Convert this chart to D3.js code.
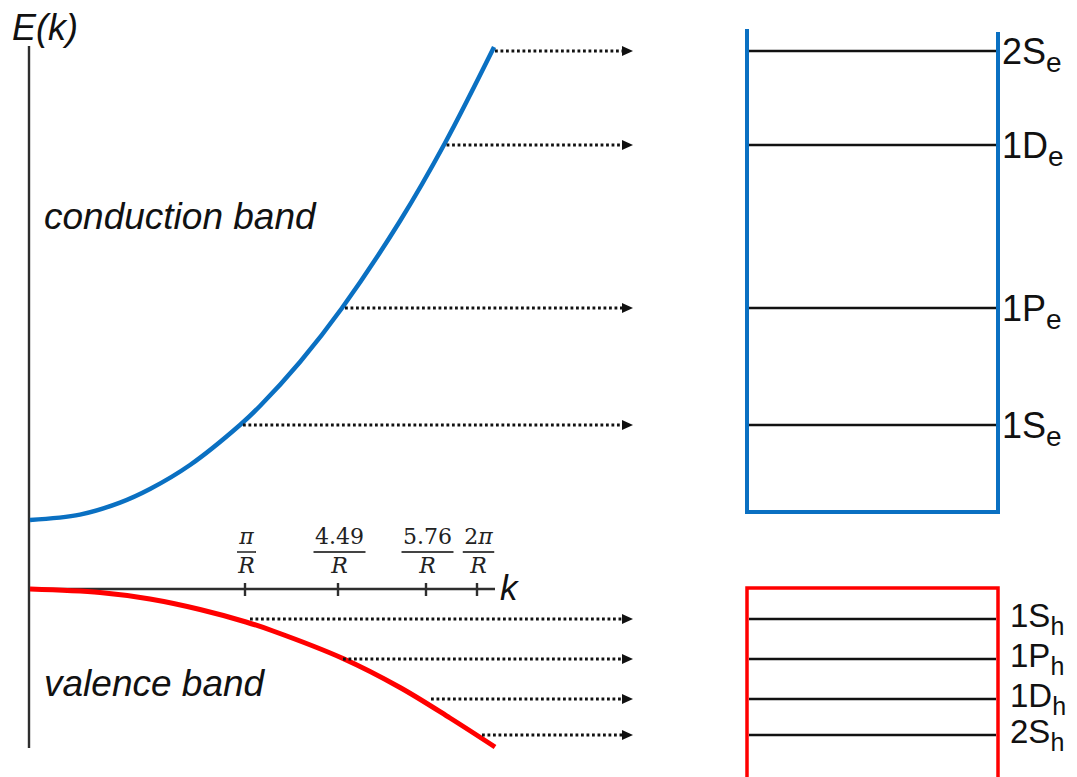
<!DOCTYPE html>
<html>
<head>
<meta charset="utf-8">
<script src="https://cdn.jsdelivr.net/npm/d3@7"></script>
<style>
  html, body { margin: 0; padding: 0; background: #fff; }
  svg { display: block; }
</style>
</head>
<body>
<svg id="chart" width="1077" height="777"></svg>
<script>
// Wave-vector ticks (in units of 1/R) and their numerators
const kTickValues = [Math.PI, 4.49, 5.76, 2 * Math.PI];
const kTickNumerators = ["π", "4.49", "5.76", "2π"];

// Conduction band dispersion E(k), sampled
const conductionK = [0, 0.73, 1.315, 1.753, 2.338, 3.068, 3.359, 3.939, 4.548, 5.385, 5.955, 6.458];
const conductionE = [0.69, 0.744, 0.864, 1.00, 1.24, 1.64, 1.83, 2.27, 2.81, 3.68, 4.46, 5.42];

// Valence band dispersion E(k), sampled
const valenceK = [0, 1.023, 1.753, 2.484, 3.156, 3.548, 4.562, 5.385, 6.006, 6.468];
const valenceE = [0, -0.035, -0.10, -0.205, -0.33, -0.42, -0.695, -0.985, -1.29, -1.58];

// Quantized levels in the dot
const electronLevelNames = ["1S", "1P", "1D", "2S"];
const electronLevelE = [1.64, 2.81, 4.44, 5.38];
const holeLevelNames = ["1S", "1P", "1D", "2S"];
const holeLevelE = [-0.30, -0.70, -1.10, -1.46];

// Confining wells (energy extents)
const electronWell = [0.77, 5.60];
const holeWell = [-2.0, 0.01];

const BLUE = "#0a70c2";
const RED = "#ff0000";
const AXIS = "#2e2e2e";

const svg = d3.select("#chart");

// k scale: tick positions are spread as in a schematic band diagram
const x = d3.scaleLinear()
  .domain([0, Math.PI, 4.49, 5.76, 2 * Math.PI])
  .range([30, 245, 338, 426, 477]);
const y = d3.scaleLinear().domain([-1.88, 5.89]).range([777, 0]);

const arrowTip = 633;
const boxLeft = 747, boxRight = 998;

// ---- axes ----
svg.append("line")
  .attr("x1", x(0) - 1).attr("x2", x(0) - 1)
  .attr("y1", 46).attr("y2", 748)
  .attr("stroke", AXIS).attr("stroke-width", 2.4);

svg.append("line")
  .attr("x1", x(0)).attr("x2", 495)
  .attr("y1", y(0)).attr("y2", y(0))
  .attr("stroke", AXIS).attr("stroke-width", 2.4);

svg.append("text")
  .attr("x", 12).attr("y", 40)
  .attr("font-family", "Liberation Sans, Arial, sans-serif")
  .attr("font-style", "italic")
  .attr("font-size", 36)
  .attr("fill", "#111")
  .text("E(k)");

svg.append("text")
  .attr("x", 500).attr("y", 600)
  .attr("font-family", "Liberation Sans, Arial, sans-serif")
  .attr("font-style", "italic")
  .attr("font-size", 35)
  .attr("fill", "#111")
  .text("k");

// ticks with fraction labels
const tickG = svg.append("g");
kTickValues.forEach((k, i) => {
  const tx = x(k);
  tickG.append("line")
    .attr("x1", tx).attr("x2", tx)
    .attr("y1", y(0) - 6).attr("y2", y(0) + 7)
    .attr("stroke", AXIS).attr("stroke-width", 2.4);
  const cx = tx + 1.5;
  const num = kTickNumerators[i];
  const numText = tickG.append("text")
    .attr("x", cx).attr("y", 544)
    .attr("text-anchor", "middle")
    .attr("font-family", "DejaVu Serif, serif")
    .attr("font-size", 22)
    .attr("fill", "#222");
  // π is set in italic, digits upright
  const parts = num.match(/[0-9.]+|π/g);
  parts.forEach(p => {
    numText.append("tspan")
      .attr("font-style", p === "π" ? "italic" : "normal")
      .text(p);
  });
  const w = Math.max(numText.node().getComputedTextLength(), 16) + 3;
  tickG.append("line")
    .attr("x1", cx - w / 2).attr("x2", cx + w / 2)
    .attr("y1", 552).attr("y2", 552)
    .attr("stroke", "#444").attr("stroke-width", 1.8);
  tickG.append("text")
    .attr("x", cx).attr("y", 573)
    .attr("text-anchor", "middle")
    .attr("font-family", "DejaVu Serif, serif")
    .attr("font-style", "italic")
    .attr("font-size", 22)
    .attr("fill", "#222")
    .text("R");
});

// ---- band curves ----
const line = d3.line().x(d => x(d[0])).y(d => y(d[1])).curve(d3.curveCatmullRom.alpha(0.5));
const conduction = conductionK.map((k, i) => [k, conductionE[i]]);
const valence = valenceK.map((k, i) => [k, valenceE[i]]);

svg.append("path").datum(conduction)
  .attr("d", line).attr("fill", "none")
  .attr("stroke", BLUE).attr("stroke-width", 4.5);
svg.append("path").datum(valence)
  .attr("d", line).attr("fill", "none")
  .attr("stroke", RED).attr("stroke-width", 5);

svg.append("text")
  .attr("x", 44).attr("y", 229)
  .attr("font-family", "Liberation Sans, Arial, sans-serif")
  .attr("font-style", "italic")
  .attr("font-size", 37)
  .attr("fill", "#111")
  .text("conduction band");

svg.append("text")
  .attr("x", 44).attr("y", 696)
  .attr("font-family", "Liberation Sans, Arial, sans-serif")
  .attr("font-style", "italic")
  .attr("font-size", 37)
  .attr("fill", "#111")
  .text("valence band");

// k on the band where it reaches energy e (samples are monotonic in E)
function kAtEnergy(ks, es, e) {
  for (let i = 1; i < ks.length; i++) {
    const a = es[i - 1], b = es[i];
    if ((e - a) * (e - b) <= 0) {
      const t = (e - a) / (b - a);
      return ks[i - 1] + t * (ks[i] - ks[i - 1]);
    }
  }
  return ks[ks.length - 1];
}

// ---- dotted arrows from the bands to the levels ----
function arrow(x0, e) {
  const yy = y(e);
  svg.append("line")
    .attr("x1", x0).attr("x2", arrowTip - 10)
    .attr("y1", yy).attr("y2", yy)
    .attr("stroke", "#111").attr("stroke-width", 3)
    .attr("stroke-dasharray", "2.8 2.7");
  svg.append("path")
    .attr("d", `M${arrowTip},${yy} L${arrowTip - 11},${yy - 5} L${arrowTip - 11},${yy + 5} Z`)
    .attr("fill", "#111");
}

electronLevelE.forEach(e => {
  arrow(x(kAtEnergy(conductionK, conductionE, e)) + 3, e);
});
holeLevelE.forEach((e, i) => {
  arrow(x(kTickValues[i]) + 5, e);
});

// ---- wells with quantized levels ----
svg.append("path")
  .attr("d", `M${boxLeft},${y(electronWell[1])} V${y(electronWell[0])} H${boxRight} V${y(electronWell[1]) + 3}`)
  .attr("fill", "none").attr("stroke", BLUE).attr("stroke-width", 4);

svg.append("path")
  .attr("d", `M${boxLeft},${y(holeWell[0])} V${y(holeWell[1])} H${boxRight} V${y(holeWell[0])}`)
  .attr("fill", "none").attr("stroke", RED).attr("stroke-width", 3.5);

function levels(es, names, sub, opts) {
  es.forEach((e, i) => {
    const yy = y(e);
    svg.append("line")
      .attr("x1", boxLeft + 2).attr("x2", boxRight - 2)
      .attr("y1", yy).attr("y2", yy)
      .attr("stroke", "#111").attr("stroke-width", 2.4);
    const t = svg.append("text")
      .attr("x", opts.x).attr("y", yy + opts.dy)
      .attr("font-family", "Liberation Sans, Arial, sans-serif")
      .attr("font-size", opts.size)
      .attr("fill", "#111");
    t.append("tspan").text(names[i]);
    t.append("tspan")
      .attr("font-size", opts.subSize)
      .attr("dy", opts.subShift)
      .text(sub);
  });
}

levels(electronLevelE, electronLevelNames, "e", { x: 1002, dy: 13, size: 36, subSize: 28, subShift: 8 });
levels(holeLevelE, holeLevelNames, "h", { x: 1010, dy: 8, size: 33, subSize: 25, subShift: 8 });
</script>
</body>
</html>
